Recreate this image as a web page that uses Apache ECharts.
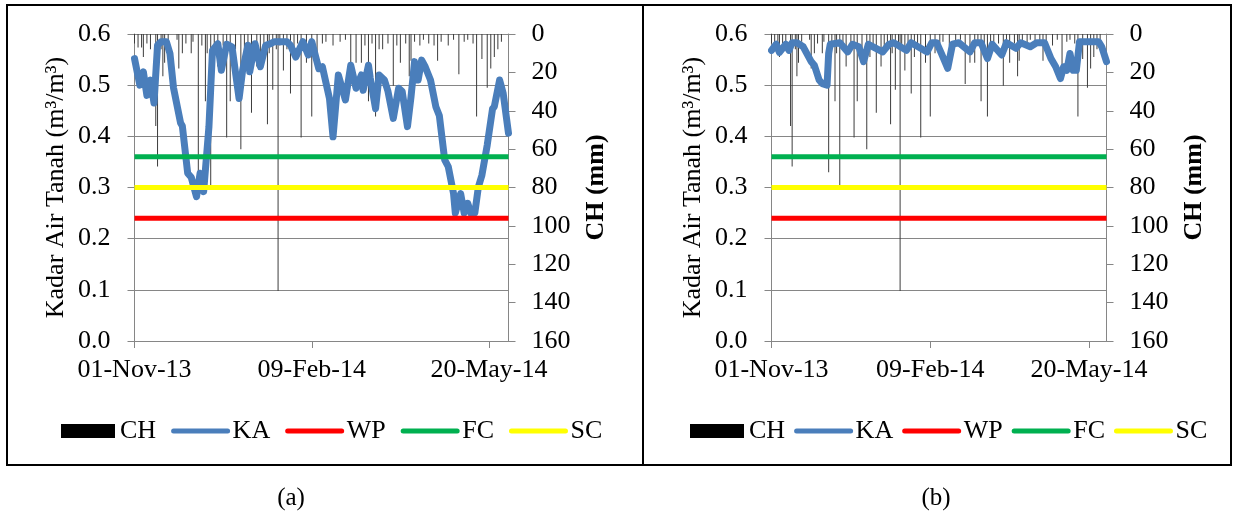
<!DOCTYPE html>
<html><head><meta charset="utf-8">
<script src="https://cdn.jsdelivr.net/npm/echarts@6/dist/echarts.min.js"></script>
<style>html,body{margin:0;padding:0;background:#fff}#c{width:1238px;height:514px}</style>
</head><body><div id="c"></div>
<script>
// ---- tick labels ----
const dateLabels = ['01-Nov-13', '09-Feb-14', '20-May-14'];
const dateTickDays = [0, 100, 200];           // days since 01-Nov-13
const dayMax = 211;                           // 31-May-14
const seriesNames = ['CH', 'KA', 'WP', 'FC', 'SC'];
const panelLabels = ['(a)', '(b)'];

// ---- thresholds (m3/m3) ----
const WP = 0.24;
const FC = 0.36;
const SC = 0.30;

// ---- rainfall CH (mm), same in both panels ----
const rainDays = [0, 2, 4, 5, 7, 9, 12, 13, 15, 16, 17, 19, 24, 25, 27, 29, 32, 33, 36, 38, 40, 41, 43, 45, 47, 50,
  52, 54, 57, 60, 62, 64, 66, 69, 71, 73, 75, 76, 78, 80, 81, 82, 84, 86, 88, 90, 92, 94, 97, 100, 103, 106, 108,
  112, 116, 119, 122, 125, 128, 130, 132, 134, 136, 138, 140, 143, 146, 148, 150, 153, 155, 156, 158, 161, 163,
  166, 169, 171, 173, 177, 180, 183, 186, 188, 191, 193, 196, 199, 201, 203, 205, 207];
const rainMm = [5, 7, 7, 12, 5, 8, 48, 69, 8, 22, 15, 4, 3, 18, 10, 5, 10, 4, 72, 6, 35, 10, 80, 8, 17, 6,
  54, 35, 8, 60, 12, 6, 41, 17, 10, 6, 47, 10, 29, 8, 134, 6, 19, 8, 31, 12, 5, 54, 15, 43, 10, 5, 4,
  6, 4, 3, 26, 15, 15, 6, 35, 5, 43, 8, 8, 5, 27, 6, 15, 5, 22, 14, 4, 6, 3,
  5, 6, 14, 4, 6, 3, 21, 4, 3, 5, 43, 13, 28, 18, 12, 8, 4];

// ---- soil moisture KA, panel (a) ----
const kaDaysA = [0, 3, 5, 7, 9, 11, 13, 15, 18, 20, 22, 26, 27, 30, 32, 35, 37, 39, 42, 44, 47, 49, 52, 55, 59, 61,
  64, 65, 68, 71, 74, 76, 79, 86, 88, 91, 95, 98, 100, 104, 106, 110, 112, 115, 119, 122, 123, 125, 128, 129, 132,
  133, 136, 138, 141, 143, 146, 149, 151, 154, 156, 158, 160, 162, 164, 167, 170, 172, 175, 177, 180, 181, 184,
  186, 188, 190, 192, 194, 196, 199, 202, 203, 206, 208, 211];
const kaValsA = [0.552, 0.500, 0.526, 0.480, 0.510, 0.465, 0.578, 0.585, 0.585, 0.562, 0.495, 0.426, 0.420, 0.328,
  0.320, 0.282, 0.328, 0.292, 0.419, 0.568, 0.581, 0.529, 0.580, 0.575, 0.474, 0.529, 0.578, 0.526, 0.581, 0.536,
  0.578, 0.580, 0.585, 0.585, 0.578, 0.555, 0.585, 0.559, 0.585, 0.532, 0.536, 0.474, 0.399, 0.520, 0.471, 0.539,
  0.539, 0.494, 0.520, 0.490, 0.539, 0.514, 0.454, 0.520, 0.510, 0.488, 0.435, 0.494, 0.488, 0.419, 0.477, 0.546,
  0.510, 0.549, 0.536, 0.510, 0.458, 0.440, 0.354, 0.341, 0.288, 0.250, 0.288, 0.250, 0.269, 0.248, 0.250, 0.301,
  0.324, 0.383, 0.454, 0.458, 0.510, 0.484, 0.406];

// ---- soil moisture KA, panel (b) ----
const kaDaysB = [0, 3, 5, 9, 11, 13, 16, 20, 25, 27, 30, 32, 35, 36, 37, 43, 48, 51, 55, 58, 61, 64, 70, 74, 77, 85,
  88, 98, 101, 104, 107, 111, 114, 118, 125, 128, 132, 136, 139, 145, 148, 154, 157, 163, 167, 172, 176, 179, 182,
  184, 186, 188, 190, 192, 194, 206, 208, 211];
const kaValsB = [0.568, 0.580, 0.564, 0.580, 0.568, 0.583, 0.583, 0.575, 0.546, 0.539, 0.510, 0.503, 0.500, 0.562,
  0.580, 0.583, 0.565, 0.580, 0.575, 0.546, 0.580, 0.575, 0.565, 0.580, 0.583, 0.568, 0.583, 0.565, 0.583, 0.583,
  0.562, 0.533, 0.580, 0.583, 0.565, 0.583, 0.583, 0.552, 0.580, 0.559, 0.583, 0.572, 0.583, 0.575, 0.583, 0.583,
  0.552, 0.536, 0.513, 0.536, 0.529, 0.562, 0.529, 0.529, 0.585, 0.585, 0.575, 0.546];

const FONT = 'Liberation Serif';
const AX = '#868686';
const pairs = (xs, ys) => xs.map((x, i) => [x, ys[i]]);
const flat = v => [[0, v], [dayMax, v]];

const grids = [
  { left: 134.5, top: 34, width: 374, height: 307 },
  { left: 771.5, top: 34, width: 335, height: 307 }
];
const legendLeft = [56, 685];
const legendGap = [15, 9];
const kaSets = [pairs(kaDaysA, kaValsA), pairs(kaDaysB, kaValsB)];

const xAxes = [], yAxes = [], series = [], legends = [];
grids.forEach((g, i) => {
  xAxes.push({
    type: 'value', gridIndex: i, min: 0, max: dayMax,
    axisLine: { show: true, onZero: false, lineStyle: { color: AX, width: 1 } },
    axisTick: { show: true, customValues: dateTickDays, length: 7, lineStyle: { color: AX } },
    axisLabel: { customValues: dateTickDays, formatter: v => dateLabels[dateTickDays.indexOf(v)] || '',
      fontSize: 26, fontFamily: FONT, color: '#000', margin: 16 },
    splitLine: { show: false }
  });
  yAxes.push({
    type: 'value', gridIndex: i, min: 0, max: 0.6, interval: 0.1, position: 'left',
    axisLine: { show: true, lineStyle: { color: AX, width: 1 } },
    axisTick: { show: true, length: 7, lineStyle: { color: AX } },
    axisLabel: { formatter: v => v.toFixed(1), fontSize: 26, fontFamily: FONT, color: '#000', margin: 24 },
    splitLine: { show: true, lineStyle: { color: AX, width: 1 } },
    name: 'Kadar Air Tanah (m³/m³)', nameLocation: 'middle', nameRotate: 90, nameGap: 65,
    nameTextStyle: { fontSize: 26, fontFamily: FONT, color: '#000' }
  });
  yAxes.push({
    type: 'value', gridIndex: i, min: 0, max: 160, interval: 20, inverse: true, position: 'right',
    axisLine: { show: true, lineStyle: { color: AX, width: 1 } },
    axisTick: { show: true, length: 7, lineStyle: { color: AX } },
    axisLabel: { fontSize: 26, fontFamily: FONT, color: '#000', margin: 23 },
    splitLine: { show: false },
    name: 'CH (mm)', nameLocation: 'middle', nameRotate: 90, nameGap: 75,
    nameTextStyle: { fontSize: 26, fontFamily: FONT, fontWeight: 'bold', color: '#000' }
  });
  const yl = i * 2, yr = i * 2 + 1;
  series.push({
    name: 'CH', type: 'bar', xAxisIndex: i, yAxisIndex: yr, barWidth: 1,
    itemStyle: { color: '#3c3c3c' }, data: pairs(rainDays, rainMm), animation: false
  });
  series.push({
    name: 'KA', type: 'line', xAxisIndex: i, yAxisIndex: yl, symbol: 'none',
    lineStyle: { color: '#4A7EBB', width: 7, join: 'round', cap: 'round' },
    itemStyle: { color: '#4A7EBB' }, data: kaSets[i], animation: false
  });
  [['WP', WP, '#FF0000'], ['FC', FC, '#00B050'], ['SC', SC, '#FFFF00']].forEach(([n, v, c]) => {
    series.push({
      name: n, type: 'line', xAxisIndex: i, yAxisIndex: yl, symbol: 'none',
      lineStyle: { color: c, width: 5 }, itemStyle: { color: c }, data: flat(v), animation: false
    });
  });
  legends.push({
    left: legendLeft[i], top: 413, itemWidth: 54, itemHeight: 14, itemGap: legendGap[i],
    textStyle: { fontSize: 26, fontFamily: FONT, color: '#000' },
    lineStyle: { width: 5, cap: 'round' },
    itemStyle: { opacity: 0 },
    data: seriesNames.map(n => n === 'CH'
      ? { name: n, icon: 'rect', itemStyle: { color: '#000', opacity: 1 } }
      : { name: n })
  });
});

const chart = echarts.init(document.getElementById('c'), null, { renderer: 'canvas' });
chart.setOption({
  animation: false,
  textStyle: { fontFamily: FONT, color: '#000' },
  grid: grids,
  xAxis: xAxes,
  yAxis: yAxes,
  legend: legends,
  series: series,
  graphic: [
    { type: 'rect', shape: { x: 7, y: 5, width: 636, height: 460 }, style: { fill: null, stroke: '#000', lineWidth: 2 }, z: 100 },
    { type: 'rect', shape: { x: 643, y: 5, width: 588, height: 460 }, style: { fill: null, stroke: '#000', lineWidth: 2 }, z: 100 },
    { type: 'text', x: 291, y: 498, style: { text: panelLabels[0], font: '25px "Liberation Serif"', fill: '#000', textAlign: 'center', textVerticalAlign: 'middle' } },
    { type: 'text', x: 936, y: 498, style: { text: panelLabels[1], font: '25px "Liberation Serif"', fill: '#000', textAlign: 'center', textVerticalAlign: 'middle' } }
  ]
});
</script></body></html>
